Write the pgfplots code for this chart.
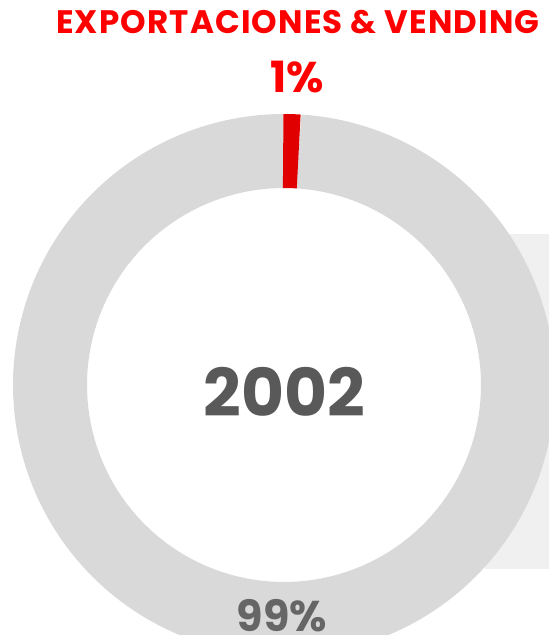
\documentclass[border=0pt]{standalone}
\usepackage{pgfplots}
\pgfplotsset{compat=1.18}
\usepackage{pgfplotstable}
\usepackage{fontspec}
\setmainfont{Poppins}

\definecolor{ringgray}{HTML}{D9D9D9}
\definecolor{slicered}{HTML}{E00000}
\definecolor{titlered}{HTML}{FF0000}
\definecolor{centergray}{HTML}{595959}
\definecolor{pctgray}{HTML}{666666}
\definecolor{panelgray}{HTML}{F0F0F0}

% share of sales, percent
\pgfplotstableread{
part    value
export  1
rest    99
}\donut
\pgfplotstablegetelem{0}{value}\of\donut \let\va\pgfplotsretval
\pgfplotstablegetelem{1}{value}\of\donut \let\vb\pgfplotsretval
\pgfmathsetmacro\angA{90-3.6*\va}
\pgfmathsetmacro\angB{\angA-3.6*\vb}

\begin{document}
\begin{tikzpicture}
\begin{axis}[
  width=549pt, height=635pt, scale only axis,
  xmin=-284, xmax=265, ymin=-250, ymax=385,
  hide axis,
  every node/.append style={inner sep=0pt, outer sep=0pt},
]
% light panel behind the ring
\addplot[fill=panelgray, draw=none] coordinates {(201,151) (265,151) (265,-184) (201,-184)} -- cycle;
% ring: radius 234, width 74
\addplot[data cs=polar, domain=\angA:\angB, samples=240, line width=74pt, ringgray] {234};
\addplot[data cs=polar, domain=90.2:\angA, samples=4, line width=74pt, slicered] {234};

\node[anchor=base, font=\bfseries\fontsize{32.5}{32.5}\selectfont\addfontfeature{LetterSpace=3.5}, text=titlered] at (axis cs:14,351) {EXPORTACIONES \& VENDING};
\node[anchor=base, font=\bfseries\fontsize{43}{43}\selectfont, text=titlered] at (axis cs:13.5,292) {\va\%};
\node[anchor=base, font=\bfseries\fontsize{66}{66}\selectfont, text=centergray] at (axis cs:0.5,-32) {2002};
\node[anchor=base, font=\bfseries\fontsize{43}{43}\selectfont, text=pctgray] at (axis cs:-2,-247) {\vb\%};
\end{axis}
\pgfresetboundingbox
\path[use as bounding box] (current axis.south west) rectangle (current axis.north east);
\end{tikzpicture}
\end{document}
